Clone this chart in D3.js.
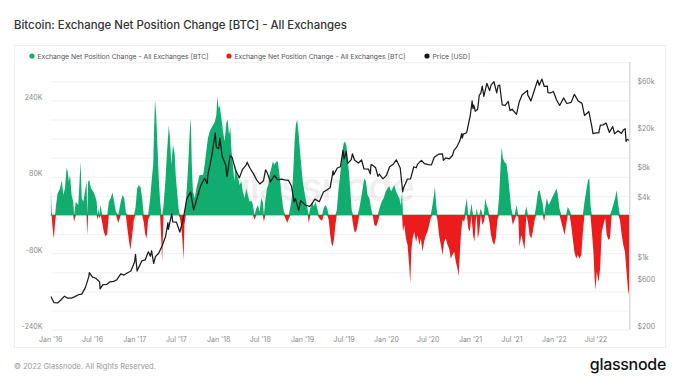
<!DOCTYPE html>
<html><head><meta charset="utf-8">
<script src="https://cdn.jsdelivr.net/npm/d3@7"></script>
<style>
body{margin:0;background:#fff;}
svg{display:block;font-family:Inter,"Noto Sans",sans-serif;}
</style>
</head><body>
<svg id="chart" width="680" height="383"></svg>
<script>
// ---------------- DATA ----------------
const titleText = "Bitcoin: Exchange Net Position Change [BTC] - All Exchanges";
const footerText = "\u00A9 2022 Glassnode. All Rights Reserved.";
const brandText = "glassnode";
const legendLabels = ["Exchange Net Position Change - All Exchanges [BTC]", "Exchange Net Position Change - All Exchanges [BTC]", "Price [USD]"];

const startDate = "2016-01-01";
const endDate = "2022-11-23";
// days since 2016-01-01
const netDayOffsets = [0,4,7,11,14,19,23,30,40,48,55,62,69,74,79,84,91,98,102,109,120,130,135,142,149,156,159,163,168,175,185,192,200,204,207,211,217,224,231,239,246,253,261,269,276,284,294,305,313,320,327,334,341,347,354,362,369,376,383,391,398,405,411,417,424,433,439,446,450,454,459,465,470,476,482,485,491,499,506,514,519,525,532,539,544,550,556,562,567,573,578,582,588,593,599,605,610,614,619,627,634,641,648,656,663,670,677,684,692,699,706,714,721,725,731,735,743,750,757,764,770,776,782,787,793,799,805,810,816,822,830,836,844,851,858,866,873,880,887,895,902,909,916,923,928,934,941,947,952,960,967,974,982,988,996,1003,1010,1015,1022,1029,1036,1044,1049,1055,1061,1067,1073,1078,1084,1090,1097,1104,1112,1119,1123,1130,1138,1145,1152,1160,1167,1174,1181,1188,1195,1203,1210,1216,1222,1227,1233,1239,1245,1252,1258,1264,1269,1275,1281,1287,1292,1299,1304,1310,1316,1322,1329,1336,1343,1351,1358,1365,1372,1379,1387,1394,1401,1408,1416,1423,1431,1440,1449,1458,1466,1474,1481,1488,1495,1503,1510,1517,1524,1529,1533,1539,1546,1553,1560,1565,1569,1575,1582,1590,1597,1604,1611,1618,1625,1633,1640,1647,1654,1661,1668,1672,1678,1683,1690,1698,1705,1712,1720,1727,1734,1741,1748,1756,1763,1770,1775,1781,1786,1792,1799,1806,1811,1817,1824,1831,1838,1844,1850,1854,1859,1865,1872,1879,1885,1891,1897,1903,1909,1916,1923,1930,1937,1944,1951,1958,1963,1968,1976,1983,1990,1997,2004,2011,2019,2027,2035,2040,2048,2055,2062,2070,2077,2084,2091,2098,2106,2113,2121,2128,2135,2142,2147,2152,2159,2167,2174,2181,2188,2195,2201,2207,2214,2222,2229,2236,2243,2250,2258,2265,2272,2279,2287,2294,2301,2309,2316,2323,2330,2338,2344,2349,2355,2362,2367,2372,2376,2384,2391,2398,2405,2413,2420,2427,2434,2441,2448,2456,2463,2470,2477,2485,2492,2499,2506,2514,2518];
const netValues = [68000,7000,-20000,-40000,-49000,-15000,20000,45000,55000,73000,42000,56000,98000,91000,70000,84000,42000,28000,-14000,28000,21000,112000,35000,28000,49000,70000,-42000,70000,73000,56000,49000,42000,28000,-10000,14000,-7000,21000,-15000,-35000,-45000,-40000,28000,35000,47000,28000,7000,-17000,28000,42000,35000,5000,-30000,-55000,-73000,-45000,-10000,14000,55000,63000,58000,35000,-15000,-40000,-49000,-10000,35000,70000,105000,180000,241000,210000,140000,80000,30000,-60000,-98000,20000,70000,130000,188000,160000,105000,147000,130000,84000,49000,14000,-5000,-20000,-50000,-94000,-20000,30000,60000,110000,175000,202000,105000,49000,35000,56000,70000,84000,84000,84000,105000,133000,160000,175000,182000,188000,195000,210000,248000,223000,230000,202000,175000,154000,192000,200000,168000,182000,133000,105000,70000,105000,84000,77000,63000,70000,49000,35000,56000,42000,28000,31000,21000,-10000,14000,21000,7000,35000,28000,-14000,30000,56000,63000,84000,98000,112000,105000,112000,112000,84000,49000,21000,7000,-8000,-17000,-8000,20000,35000,84000,150000,190000,199000,175000,140000,105000,70000,49000,28000,10000,-17000,14000,28000,18000,28000,14000,-5000,-10000,-12000,14000,21000,14000,-10000,-40000,-60000,-66000,-50000,-20000,10000,50000,77000,105000,133000,150000,154000,145000,119000,84000,49000,10000,-20000,-35000,-35000,-20000,14000,35000,56000,77000,70000,42000,35000,14000,0,-20000,-24000,-15000,14000,28000,35000,49000,56000,60000,49000,56000,63000,49000,42000,35000,20000,49000,-35000,-21000,-49000,-63000,-105000,-143000,-77000,-49000,-35000,-56000,-42000,-63000,-49000,-77000,-56000,-42000,-35000,-21000,-7000,20000,42000,59000,20000,-10000,-42000,-63000,-84000,-56000,-49000,-63000,-70000,-91000,-84000,-77000,-98000,-112000,-129000,-77000,-35000,-10000,-14000,21000,35000,-28000,-35000,24000,-42000,-56000,-10000,14000,-49000,-35000,14000,-21000,-14000,35000,21000,14000,-14000,-42000,-56000,-63000,-49000,-10000,35000,105000,143000,119000,110000,108000,84000,49000,14000,-21000,-10000,21000,-5000,-66000,-42000,-56000,-73000,18000,-15000,-42000,-49000,-35000,-10000,20000,49000,52000,35000,21000,-14000,14000,35000,21000,28000,35000,42000,49000,56000,42000,14000,-14000,-28000,-42000,-21000,17000,10000,-21000,-49000,-77000,-91000,-84000,-91000,-84000,-35000,28000,49000,73000,77000,21000,-35000,-77000,-133000,-157000,-119000,-140000,-112000,-35000,-21000,-7000,-42000,-52000,-49000,10000,21000,35000,52000,21000,-10000,-42000,-63000,-77000,-119000,-167000,-150000];

const priceDates = ["2016-01-01","2016-01-15","2016-02-01","2016-02-15","2016-03-01","2016-03-15","2016-04-01","2016-04-15","2016-05-01","2016-05-15","2016-05-31","2016-06-15","2016-06-17","2016-07-01","2016-07-15","2016-08-01","2016-08-03","2016-08-15","2016-09-01","2016-09-15","2016-10-01","2016-10-15","2016-11-01","2016-11-15","2016-12-01","2016-12-15","2016-12-31","2017-01-04","2017-01-11","2017-01-15","2017-02-01","2017-02-15","2017-03-01","2017-03-10","2017-03-15","2017-03-24","2017-04-01","2017-04-15","2017-05-01","2017-05-15","2017-05-25","2017-05-27","2017-06-11","2017-06-15","2017-07-01","2017-07-16","2017-08-01","2017-08-15","2017-09-01","2017-09-14","2017-10-01","2017-10-15","2017-11-01","2017-11-12","2017-11-15","2017-12-01","2017-12-17","2017-12-22","2018-01-01","2018-01-06","2018-01-16","2018-02-01","2018-02-06","2018-02-20","2018-03-01","2018-03-15","2018-04-01","2018-04-15","2018-05-01","2018-05-05","2018-05-15","2018-06-01","2018-06-15","2018-06-29","2018-07-15","2018-07-24","2018-08-01","2018-08-14","2018-09-01","2018-09-15","2018-10-01","2018-10-15","2018-11-01","2018-11-14","2018-11-25","2018-12-01","2018-12-15","2018-12-24","2019-01-01","2019-01-15","2019-02-01","2019-02-08","2019-02-24","2019-03-15","2019-04-02","2019-04-15","2019-05-01","2019-05-14","2019-05-17","2019-06-01","2019-06-15","2019-06-26","2019-07-01","2019-07-10","2019-07-16","2019-08-01","2019-08-06","2019-08-15","2019-09-01","2019-09-15","2019-09-25","2019-10-15","2019-10-23","2019-10-26","2019-11-01","2019-11-15","2019-11-25","2019-12-01","2019-12-17","2020-01-01","2020-01-15","2020-02-01","2020-02-13","2020-03-01","2020-03-12","2020-03-15","2020-04-01","2020-04-15","2020-04-29","2020-05-10","2020-05-15","2020-06-01","2020-06-15","2020-07-01","2020-07-15","2020-07-27","2020-08-15","2020-09-01","2020-09-05","2020-09-15","2020-10-01","2020-10-15","2020-10-21","2020-11-01","2020-11-15","2020-11-24","2020-11-26","2020-12-01","2020-12-15","2020-12-31","2021-01-08","2021-01-12","2021-01-15","2021-01-22","2021-02-01","2021-02-08","2021-02-15","2021-02-21","2021-02-28","2021-03-13","2021-03-25","2021-04-01","2021-04-13","2021-04-25","2021-05-01","2021-05-08","2021-05-12","2021-05-19","2021-06-01","2021-06-14","2021-06-22","2021-07-01","2021-07-20","2021-08-01","2021-08-14","2021-09-06","2021-09-07","2021-09-21","2021-10-01","2021-10-20","2021-10-27","2021-11-08","2021-11-18","2021-12-01","2021-12-04","2021-12-15","2021-12-27","2022-01-01","2022-01-10","2022-01-24","2022-02-10","2022-02-24","2022-03-15","2022-03-29","2022-04-15","2022-05-01","2022-05-12","2022-05-31","2022-06-13","2022-06-18","2022-07-01","2022-07-13","2022-07-20","2022-08-01","2022-08-14","2022-08-28","2022-09-12","2022-09-20","2022-10-05","2022-10-20","2022-10-29","2022-11-05","2022-11-09","2022-11-14","2022-11-22"];
const priceValues = [434,375,372,400,435,415,416,430,450,456,530,690,750,676,660,606,515,568,572,607,614,638,730,710,750,780,963,1150,780,820,990,1010,1220,1100,1250,930,1090,1180,1420,1740,2400,2050,2970,2450,2430,1930,2720,4150,4890,3230,4400,5700,6750,5950,7300,10900,19300,13800,13400,17100,11300,9100,7000,11400,10900,8200,6800,8300,9200,9800,8700,7500,6500,5900,6350,8200,7600,6200,7200,6500,6600,6500,6400,5600,3900,4200,3200,4000,3850,3600,3500,3650,4150,3900,4900,5100,5400,8000,7300,8550,8800,12900,10600,12600,9500,10400,11900,10300,9600,10300,8400,8350,7450,9250,9150,8600,7050,7400,6650,7200,8800,9400,10350,8550,4900,5350,6600,6650,8800,8600,9300,10200,9450,9230,9200,11000,11800,11900,10200,10800,10600,11500,12900,13800,16000,19150,17100,18800,19400,29000,40600,34000,36800,32000,33500,46200,48700,57500,45200,61200,51700,59000,63500,49000,57800,58800,49200,37000,36700,40200,32500,33500,29800,39800,47000,51800,46800,40700,48100,66000,58500,67500,56900,57200,49300,48900,50700,47700,41800,36600,43600,38300,39300,47400,40500,38400,29000,31800,22400,19000,19300,19300,23200,23300,24300,19600,22400,18900,20300,19100,20800,21300,15900,16600,16300];

const leftTickValues = [-240000, -80000, 80000, 240000];
const leftTickLabels = ["-240K", "-80K", "80K", "240K"];
const gridValues = [-240000,-200000,-160000,-120000,-80000,-40000,0,40000,80000,120000,160000,200000,240000,280000,320000];
const rightTickValues = [200, 600, 1000, 4000, 8000, 20000, 60000];
const rightTickLabels = ["$200", "$600", "$1k", "$4k", "$8k", "$20k", "$60k"];
const xTickDates = ["2016-01-01","2016-07-01","2017-01-01","2017-07-01","2018-01-01","2018-07-01","2019-01-01","2019-07-01","2020-01-01","2020-07-01","2021-01-01","2021-07-01","2022-01-01","2022-07-01"];
const xTickLabels = ["Jan '16","Jul '16","Jan '17","Jul '17","Jan '18","Jul '18","Jan '19","Jul '19","Jan '20","Jul '20","Jan '21","Jul '21","Jan '22","Jul '22"];

// ---------------- STYLE / LAYOUT ----------------
const GREEN = "#10ad6e", RED = "#ec1c1c", PRICE = "#1b1b1b";
const plot = {left: 50.7, right: 629.3, top: 62.2, bottom: 329.6};

const parse = d3.utcParse("%Y-%m-%d");
const t0 = parse(startDate);
const svg = d3.select("#chart");

const x = d3.scaleUtc().domain([t0, parse(endDate)]).range([plot.left, plot.right]);
const yL = d3.scaleLinear().domain([-240000, 320000]).range([plot.bottom, plot.top]);
const yR = d3.scaleLog().domain([200, 100000]).range([plot.bottom, plot.top]);

// title
svg.append("text").attr("x", 14).attr("y", 29).text(titleText)
  .attr("font-size", 11.4).attr("fill", "#333").attr("font-weight", 500);

// panel
svg.append("rect").attr("x", 14.5).attr("y", 45.5).attr("width", 651).attr("height", 302)
  .attr("fill", "none").attr("stroke", "#eeeeee");

// legend
const legendX = [32, 229, 427];
const legendColors = [GREEN, RED, PRICE];
legendLabels.forEach((l, i) => {
  const g = svg.append("g").attr("transform", `translate(${legendX[i]},56)`);
  g.append("circle").attr("r", 2.6).attr("fill", legendColors[i]);
  g.append("text").attr("x", 5.5).attr("y", 2.5).text(l).attr("font-size", 6.8).attr("fill", "#555");
});

// gridlines
svg.append("g").selectAll("line").data(gridValues).join("line")
  .attr("x1", plot.left).attr("x2", plot.right)
  .attr("y1", d => yL(d) + 0.5).attr("y2", d => yL(d) + 0.5)
  .attr("stroke", "#f1f1f1").attr("stroke-width", 1);

// watermark
svg.append("text").attr("x", 320).attr("y", 201).attr("text-anchor", "middle")
  .text(brandText).attr("font-size", 40).attr("font-weight", 500)
  .attr("fill", "#000").attr("fill-opacity", 0.085).attr("letter-spacing", -1);

// clip
svg.append("clipPath").attr("id", "clip").append("rect")
  .attr("x", plot.left).attr("y", plot.top).attr("width", plot.right - plot.left).attr("height", plot.bottom - plot.top);

const netData = netDayOffsets.map((d, i) => ({date: d3.utcDay.offset(t0, d), v: netValues[i]}));
const priceData = priceDates.map((d, i) => ({date: parse(d), v: priceValues[i]}));

const g = svg.append("g").attr("clip-path", "url(#clip)");

// zero line
g.append("line").attr("x1", plot.left).attr("x2", plot.right)
  .attr("y1", yL(0)).attr("y2", yL(0)).attr("stroke", "#9a9a9a").attr("stroke-width", 1);

const areaPos = d3.area().x(d => x(d.date)).y0(yL(0)).y1(d => yL(Math.max(0, d.v)));
const areaNeg = d3.area().x(d => x(d.date)).y0(yL(0)).y1(d => yL(Math.min(0, d.v)));
g.append("path").datum(netData).attr("d", areaPos).attr("fill", GREEN);
g.append("path").datum(netData).attr("d", areaNeg).attr("fill", RED);

const line = d3.line().x(d => x(d.date)).y(d => yR(d.v));
g.append("path").datum(priceData).attr("d", line).attr("fill", "none")
  .attr("stroke", PRICE).attr("stroke-width", 1.25).attr("stroke-linejoin", "round");

// right axis line
svg.append("line").attr("x1", plot.right + 0.5).attr("x2", plot.right + 0.5)
  .attr("y1", plot.top).attr("y2", plot.bottom).attr("stroke", "#c8c8c8");

// left axis labels
svg.append("g").selectAll("text").data(leftTickValues).join("text")
  .attr("x", 42.5).attr("y", d => yL(d) - 0.6).attr("text-anchor", "end")
  .text((d, i) => leftTickLabels[i]).attr("font-size", 7).attr("fill", "#8a8a8a");

// right axis labels
svg.append("g").selectAll("text").data(rightTickValues).join("text")
  .attr("x", 637.5).attr("y", d => yR(d) - 0.6)
  .text((d, i) => rightTickLabels[i]).attr("font-size", 7).attr("fill", "#8a8a8a");

// x axis labels
svg.append("g").selectAll("text").data(xTickDates).join("text")
  .attr("x", d => x(parse(d))).attr("y", 341.5).attr("text-anchor", "middle")
  .text((d, i) => xTickLabels[i]).attr("font-size", 7).attr("fill", "#8a8a8a");

// footer
svg.append("text").attr("x", 14).attr("y", 369).text(footerText)
  .attr("font-size", 7.5).attr("fill", "#9a9a9a");
svg.append("text").attr("x", 666).attr("y", 370).attr("text-anchor", "end").text(brandText)
  .attr("font-size", 16).attr("font-weight", 500).attr("fill", "#111").attr("letter-spacing", -0.3);
</script>
</body></html>
